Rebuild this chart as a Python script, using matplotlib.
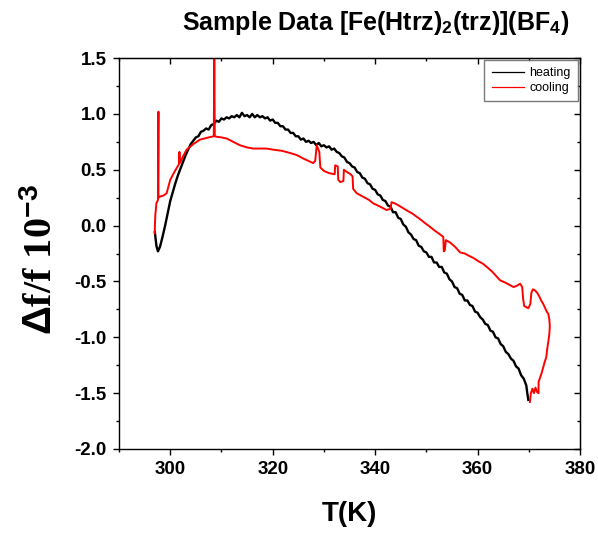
import matplotlib
matplotlib.use("Agg")
import matplotlib.pyplot as plt
from matplotlib.ticker import MultipleLocator

plt.rcParams['font.family'] = ['Liberation Sans', 'DejaVu Sans']
plt.rcParams['mathtext.fontset'] = 'custom'
plt.rcParams['mathtext.rm'] = 'Liberation Sans:bold'
plt.rcParams['mathtext.it'] = 'Liberation Serif:bold'

# heating run (black)
T_heat = [297.0, 297.3, 297.6, 298.0, 298.5, 299.0, 299.5, 300.0, 300.5, 301.0,
          301.5, 302.0, 302.5, 303.0, 303.5, 304.0, 304.5, 305.0, 305.5, 306.0,
          306.5, 307.0, 307.5, 308.0, 308.5, 309.0, 309.5, 310.0, 310.5, 311.0,
          311.5, 312.0, 312.5, 313.0, 313.5, 314.0, 314.5, 315.0, 315.5, 316.0,
          316.5, 317.0, 317.5, 318.0, 318.5, 319.0, 319.5, 320.0, 320.5, 321.0,
          321.5, 322.0, 322.5, 323.0, 323.5, 324.0, 324.5, 325.0, 325.5, 326.0,
          326.5, 327.0, 327.5, 328.0, 328.5, 329.0, 329.5, 330.0, 330.5, 331.0,
          331.5, 332.0, 332.5, 333.0, 333.5, 334.0, 334.5, 335.0, 335.5, 336.0,
          336.5, 337.0, 337.5, 338.0, 338.5, 339.0, 339.5, 340.0, 340.5, 341.0,
          341.5, 342.0, 342.5, 343.0, 343.5, 344.0, 344.5, 345.0, 345.5, 346.0,
          346.5, 347.0, 347.5, 348.0, 348.5, 349.0, 349.5, 350.0, 350.5, 351.0,
          351.5, 352.0, 352.5, 353.0, 353.5, 354.0, 354.5, 355.0, 355.5, 356.0,
          356.5, 357.0, 357.5, 358.0, 358.5, 359.0, 359.5, 360.0, 360.5, 361.0,
          361.5, 362.0, 362.5, 363.0, 363.5, 364.0, 364.5, 365.0, 365.5, 366.0,
          366.5, 367.0, 367.5, 368.0, 368.5, 369.0, 369.5, 369.7, 369.9]
df_heat = [-0.06, -0.18, -0.23, -0.19, -0.10, 0.00, 0.11, 0.22, 0.30, 0.38,
           0.45, 0.51, 0.57, 0.63, 0.68, 0.73, 0.76, 0.79, 0.80, 0.84,
           0.85, 0.87, 0.86, 0.90, 0.91, 0.94, 0.93, 0.96, 0.95, 0.97,
           0.96, 0.98, 0.97, 0.99, 0.97, 1.01, 0.98, 0.99, 0.97, 1.00,
           0.97, 0.99, 0.97, 0.98, 0.96, 0.97, 0.94, 0.95, 0.92, 0.92,
           0.89, 0.89, 0.86, 0.86, 0.83, 0.83, 0.80, 0.80, 0.77, 0.78,
           0.75, 0.76, 0.74, 0.75, 0.72, 0.74, 0.71, 0.72, 0.70, 0.71,
           0.68, 0.69, 0.66, 0.65, 0.62, 0.61, 0.57, 0.56, 0.53, 0.52,
           0.48, 0.47, 0.43, 0.42, 0.38, 0.37, 0.33, 0.32, 0.28, 0.27,
           0.23, 0.22, 0.18, 0.17, 0.12, 0.12, 0.07, 0.06, 0.01, -0.01,
           -0.06, -0.08, -0.12, -0.13, -0.18, -0.19, -0.23, -0.24, -0.28, -0.28,
           -0.33, -0.33, -0.37, -0.37, -0.42, -0.43, -0.48, -0.50, -0.55, -0.56,
           -0.61, -0.62, -0.67, -0.67, -0.71, -0.72, -0.77, -0.78, -0.82, -0.84,
           -0.88, -0.89, -0.94, -0.95, -1.00, -1.01, -1.06, -1.08, -1.13, -1.15,
           -1.19, -1.21, -1.26, -1.28, -1.34, -1.37, -1.43, -1.50, -1.56]

# cooling run (red), in measured order
T_cool = [370.2, 370.4, 370.7, 371.0, 371.3, 371.6, 371.9, 371.9, 372.2, 372.5,
          372.8, 373.1, 373.4, 373.6, 373.8, 374.0, 374.1, 374.0, 373.8, 373.5,
          373.2, 372.8, 372.4, 372.0, 371.6, 371.2, 370.8, 370.5, 370.3, 369.9,
          369.5, 369.1, 368.9, 368.7, 368.3, 367.6, 367.0, 366.2, 365.4, 364.4,
          363.6, 362.8, 361.8, 361.0, 360.2, 359.2, 358.3, 357.5, 356.6, 355.6,
          354.6, 353.8, 353.6, 353.4, 353.3, 352.4, 351.5, 350.7, 349.8, 349.0,
          348.1, 347.2, 346.4, 345.5, 344.6, 343.8, 343.2, 343.0, 342.2, 341.0,
          339.6, 338.8, 338.0, 337.2, 336.4, 335.7, 335.6, 335.2, 334.5, 333.9,
          333.8, 333.2, 332.8, 332.7, 332.2, 332.1, 331.0, 330.0, 329.3, 329.1,
          328.6, 328.3, 327.9, 326.0, 324.8, 323.4, 321.8, 320.1, 318.8, 317.5,
          316.2, 315.0, 313.6, 312.3, 311.0, 310.0, 309.1, 308.7, 308.6, 308.5,
          307.5, 305.8, 304.5, 303.2, 302.5, 301.9, 301.8, 301.7, 300.8, 300.0,
          299.3, 298.7, 298.0, 297.7, 297.7, 297.6, 297.3, 297.1, 297.0, 297.0]
df_cool = [-1.58, -1.50, -1.46, -1.50, -1.45, -1.49, -1.50, -1.40, -1.36, -1.32,
           -1.27, -1.22, -1.18, -1.10, -1.04, -0.97, -0.90, -0.84, -0.79, -0.77,
           -0.74, -0.70, -0.67, -0.63, -0.60, -0.58, -0.57, -0.60, -0.70, -0.74,
           -0.73, -0.72, -0.66, -0.55, -0.52, -0.54, -0.55, -0.53, -0.51, -0.49,
           -0.45, -0.41, -0.37, -0.34, -0.32, -0.29, -0.27, -0.25, -0.24, -0.19,
           -0.15, -0.13, -0.22, -0.23, -0.10, -0.07, -0.04, -0.01, 0.02, 0.05,
           0.08, 0.11, 0.13, 0.155, 0.18, 0.20, 0.21, 0.15, 0.14, 0.17,
           0.20, 0.23, 0.25, 0.27, 0.29, 0.33, 0.44, 0.46, 0.48, 0.50,
           0.40, 0.39, 0.41, 0.53, 0.54, 0.46, 0.47, 0.49, 0.52, 0.66,
           0.72, 0.58, 0.56, 0.60, 0.63, 0.65, 0.67, 0.68, 0.69, 0.69,
           0.69, 0.70, 0.72, 0.75, 0.78, 0.79, 0.795, 0.80, 1.50, 0.80,
           0.79, 0.77, 0.73, 0.68, 0.62, 0.56, 0.66, 0.55, 0.48, 0.41,
           0.29, 0.27, 0.26, 0.25, 1.02, 0.23, 0.20, 0.10, 0.00, -0.07]

fig = plt.figure(figsize=(5.98, 5.33), dpi=100)
ax = fig.add_axes([0.199, 0.1576, 0.771, 0.7334])

ax.plot(T_heat, df_heat, color='black', lw=1.7, label='heating')
ax.plot(T_cool, df_cool, color='red', lw=1.4, label='cooling')

ax.set_xlim(290, 380)
ax.set_ylim(-2.0, 1.5)
ax.xaxis.set_major_locator(MultipleLocator(20))
ax.xaxis.set_minor_locator(MultipleLocator(10))
ax.yaxis.set_major_locator(MultipleLocator(0.5))
ax.yaxis.set_minor_locator(MultipleLocator(0.25))
ax.tick_params(which='both', direction='out', width=1)
ax.tick_params(which='major', length=4, pad=5)
ax.tick_params(which='minor', length=2.5)
for lab in ax.get_xticklabels() + ax.get_yticklabels():
    lab.set_fontweight('bold')
    lab.set_fontsize(13.5)
ax.yaxis.set_major_formatter(plt.FuncFormatter(lambda v, p: '%.1f' % v))

# mirrored ticks on top and right, pointing in
top = ax.secondary_xaxis('top')
top.xaxis.set_major_locator(MultipleLocator(20))
top.xaxis.set_minor_locator(MultipleLocator(10))
top.tick_params(which='both', direction='in', labeltop=False, width=1)
top.tick_params(which='major', length=4)
top.tick_params(which='minor', length=2.5)
right = ax.secondary_yaxis('right')
right.yaxis.set_major_locator(MultipleLocator(0.5))
right.yaxis.set_minor_locator(MultipleLocator(0.25))
right.tick_params(which='both', direction='in', labelright=False, width=1)
right.tick_params(which='major', length=4)
right.tick_params(which='minor', length=2.5)

for s in ax.spines.values():
    s.set_linewidth(1)

ax.set_xlabel('T(K)', fontsize=20, fontweight='bold', labelpad=16)
ax.set_ylabel(r'$\Delta$f/f 10$^{\mathit{-3}}$', fontsize=29, fontweight='bold',
              fontfamily=['Liberation Serif', 'DejaVu Serif'])
ax.yaxis.set_label_coords(-0.125, 0.485)
ax.set_title(r'Sample Data [Fe(Htrz)$_2$(trz)](BF$_4$)', fontsize=18,
             fontweight='bold', x=0.557, pad=20)

leg = ax.legend(loc='upper right', fontsize=9, frameon=True, fancybox=False,
                handlelength=2.6, borderaxespad=0.15, borderpad=0.6,
                labelspacing=0.2, handletextpad=0.4)
leg.get_frame().set_edgecolor('0.35')
leg.get_frame().set_linewidth(1)
for l in leg.get_lines():
    l.set_linewidth(0.9)

plt.savefig('out.png', dpi=100)
